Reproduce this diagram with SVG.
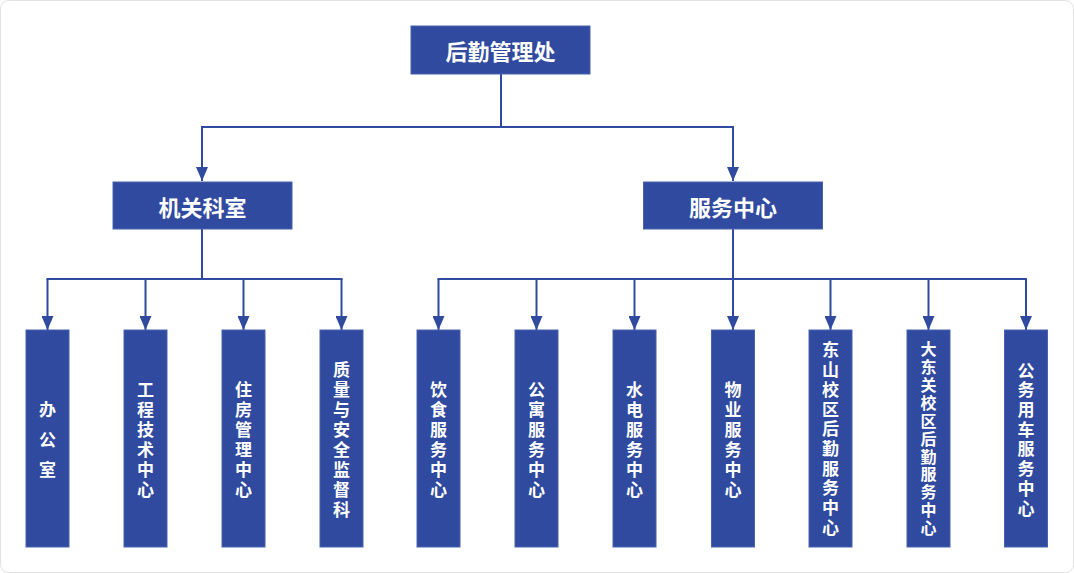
<svg xmlns="http://www.w3.org/2000/svg" width="1074" height="573" viewBox="0 0 1074 573">
<defs>
<marker id="arr" markerUnits="userSpaceOnUse" markerWidth="14" markerHeight="12" refX="14" refY="6" orient="auto" viewBox="0 0 14 12"><path d="M0,0 L14,6 L0,12 z" fill="#2f4a9f"/></marker>
<style>
.box{fill:#2f4a9f;stroke:#4a62b0;stroke-width:1}
.t{fill:#ffffff;font-family:"Noto Sans CJK SC","Noto Sans CJK JP",sans-serif;font-weight:700;text-anchor:middle}
.big{font-size:22px;dominant-baseline:central}
.v{font-size:17px;writing-mode:vertical-rl;letter-spacing:3px}
.w{letter-spacing:13px}
.d{letter-spacing:2.7px}
.s{font-size:16px;letter-spacing:1.9px}
.c line{stroke:#2f4a9f;stroke-width:2;fill:none}
.arw{marker-end:url(#arr)}
</style>
</defs>
<rect x="0.5" y="0.5" width="1073" height="572" rx="8" fill="#ffffff" stroke="#e2e2e2"/>
<g class="c" id="connectors">
<line x1="501" y1="74" x2="501" y2="127"/>
<line x1="201" y1="127" x2="734" y2="127"/>
<line class="arw" x1="202" y1="127" x2="202" y2="181"/>
<line class="arw" x1="733" y1="127" x2="733" y2="181"/>
<line x1="202" y1="229" x2="202" y2="279"/>
<line x1="46.5" y1="279" x2="342.5" y2="279"/>
<line class="arw" x1="47.5" y1="279" x2="47.5" y2="330"/>
<line class="arw" x1="145.5" y1="279" x2="145.5" y2="330"/>
<line class="arw" x1="243.5" y1="279" x2="243.5" y2="330"/>
<line class="arw" x1="341.5" y1="279" x2="341.5" y2="330"/>
<line x1="733" y1="229" x2="733" y2="279"/>
<line x1="437.5" y1="279" x2="1027" y2="279"/>
<line class="arw" x1="438.5" y1="279" x2="438.5" y2="330"/>
<line class="arw" x1="536.5" y1="279" x2="536.5" y2="330"/>
<line class="arw" x1="634.5" y1="279" x2="634.5" y2="330"/>
<line class="arw" x1="733" y1="279" x2="733" y2="330"/>
<line class="arw" x1="830.5" y1="279" x2="830.5" y2="330"/>
<line class="arw" x1="928.5" y1="279" x2="928.5" y2="330"/>
<line class="arw" x1="1026" y1="279" x2="1026" y2="330"/>
</g>
<g id="n_root"><rect class="box" x="411" y="26" width="179" height="48"/><text class="t big" x="500.5" y="50">后勤管理处</text></g>
<g id="n_jgks"><rect class="box" x="113" y="182" width="179" height="47"/><text class="t big" x="202.5" y="205.5">机关科室</text></g>
<g id="n_fwzx"><rect class="box" x="643.5" y="182" width="179" height="47"/><text class="t big" x="733" y="205.5">服务中心</text></g>
<g id="n_bgs"><rect class="box" x="26" y="330" width="43" height="217"/><text class="t v w" x="47.5" y="446">办公室</text></g>
<g id="n_gcjs"><rect class="box" x="124" y="330" width="43" height="217"/><text class="t v" x="145.5" y="441">工程技术中心</text></g>
<g id="n_zfgl"><rect class="box" x="222" y="330" width="43" height="217"/><text class="t v" x="243.5" y="441">住房管理中心</text></g>
<g id="n_zlaq"><rect class="box" x="320" y="330" width="43" height="217"/><text class="t v" x="341.5" y="441">质量与安全监督科</text></g>
<g id="n_ys"><rect class="box" x="417" y="330" width="43" height="217"/><text class="t v" x="438.5" y="441">饮食服务中心</text></g>
<g id="n_gy"><rect class="box" x="515" y="330" width="43" height="217"/><text class="t v" x="536.5" y="441">公寓服务中心</text></g>
<g id="n_sd"><rect class="box" x="613" y="330" width="43" height="217"/><text class="t v" x="634.5" y="441">水电服务中心</text></g>
<g id="n_wy"><rect class="box" x="711.5" y="330" width="43" height="217"/><text class="t v" x="733" y="441">物业服务中心</text></g>
<g id="n_ds"><rect class="box" x="809" y="330" width="43" height="217"/><text class="t v d" x="830.5" y="440">东山校区后勤服务中心</text></g>
<g id="n_ddg"><rect class="box" x="907" y="330" width="43" height="217"/><text class="t v s" x="928.5" y="439.5">大东关校区后勤服务中心</text></g>
<g id="n_gwyc"><rect class="box" x="1004.5" y="330" width="43" height="217"/><text class="t v d" x="1026" y="440.5">公务用车服务中心</text></g>
</svg>
